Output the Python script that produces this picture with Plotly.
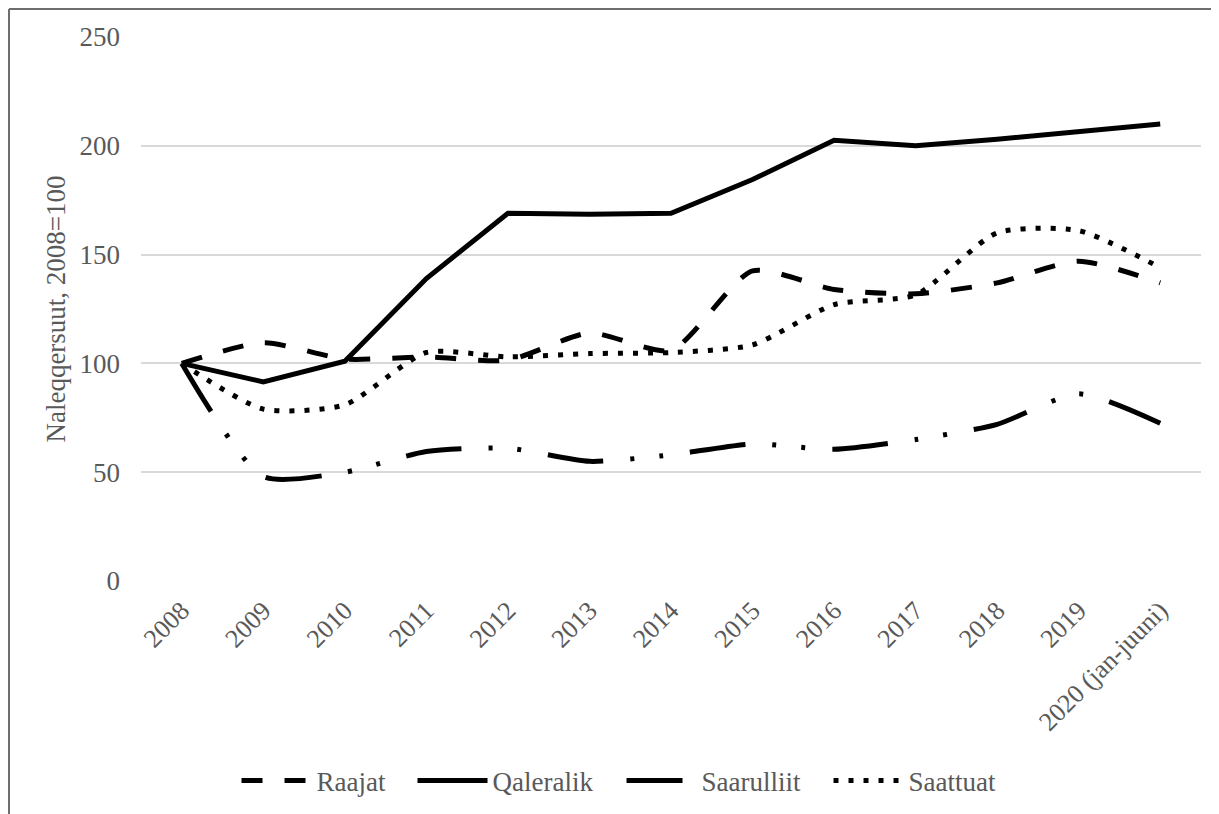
import plotly.graph_objects as go

years = ["2008", "2009", "2010", "2011", "2012", "2013", "2014", "2015",
         "2016", "2017", "2018", "2019", "2020 (jan-juuni)"]
raajat = [100, 109.5, 102, 103, 101.5, 114, 106, 142.5, 134, 132, 137, 147, 137]
qaleralik = [100, 91.5, 101, 139, 169, 168.5, 169, 184.5, 202.5, 200, 203, 206.5, 210]
saarulliit = [100, 48, 50, 59.5, 61, 55, 58, 63, 60.5, 65, 72, 86, 72.5]
saattuat = [100, 79, 81, 105, 103, 104.5, 105, 108.5, 127, 131.5, 160, 161, 144]
y_ticks = [0, 50, 100, 150, 200, 250]

FONT = "Liberation Serif"
TXT = "#595959"
FS = 27
SMOOTH = 0.65

fig = go.Figure()
fig.add_trace(go.Scatter(x=years, y=raajat, name="Raajat", mode="lines",
                         legendwidth=91,
                         line=dict(color="black", width=5, dash="21px,22px",
                                   shape="spline", smoothing=SMOOTH)))
fig.add_trace(go.Scatter(x=years, y=qaleralik, name="Qaleralik", mode="lines",
                         legendwidth=124,
                         line=dict(color="black", width=5)))
fig.add_trace(go.Scatter(x=years, y=saarulliit, name="Saarulliit", mode="lines",
                         legendwidth=122,
                         line=dict(color="black", width=5,
                                   dash="56px,27px,4px,25px,4px,27px",
                                   shape="spline", smoothing=SMOOTH)))
fig.add_trace(go.Scatter(x=years, y=saattuat, name="Saattuat", mode="lines",
                         legendwidth=95,
                         line=dict(color="black", width=5, dash="5px,10px",
                                   shape="spline", smoothing=SMOOTH)))

# page body adds an 8px offset, so the figure is sized/placed to compensate
W, H = 1211, 806
L, T, R, B = 133, 29, 18, 233
pw = W - L - R
ph = H - T - B


def px2paper_x(px):
    return (px - L) / pw


def px2paper_y(py):
    return (H - B - py) / ph


# outer chart frame (top and left edges visible)
fig.add_shape(type="line", xref="paper", yref="paper",
              x0=px2paper_x(1), y0=px2paper_y(1), x1=px2paper_x(1230), y1=px2paper_y(1),
              line=dict(color="#6e6e6e", width=2))
fig.add_shape(type="line", xref="paper", yref="paper",
              x0=px2paper_x(1), y0=px2paper_y(1), x1=px2paper_x(1), y1=px2paper_y(830),
              line=dict(color="#6e6e6e", width=2))

fig.update_layout(
    width=W, height=H,
    margin=dict(l=L, r=R, t=T, b=B, autoexpand=False),
    paper_bgcolor="white", plot_bgcolor="white",
    font=dict(family=FONT, color=TXT, size=FS),
    showlegend=True,
    legend=dict(orientation="h", xref="container", yref="container",
                x=0.1887, xanchor="left", y=0.041, yanchor="middle",
                font=dict(family=FONT, color=TXT, size=FS),
                itemwidth=70, tracegroupgap=0),
    xaxis=dict(type="category", range=[-0.5, 12.5], tickangle=-45,
               showgrid=False, showline=False, zeroline=False,
               tickfont=dict(family=FONT, color=TXT, size=FS - 1),
               ticks="", ticklabelstandoff=8),
    yaxis=dict(range=[0, 250], tickvals=y_ticks, showgrid=True,
               gridcolor="#d9d9d9", gridwidth=2, zeroline=False, showline=False,
               tickfont=dict(family=FONT, color=TXT, size=FS),
               ticks="", ticklabelstandoff=20,
               title=dict(text="Naleqqersuut, 2008=100",
                          font=dict(family=FONT, color=TXT, size=FS),
                          standoff=6)),
)

fig.write_html("out.html")
